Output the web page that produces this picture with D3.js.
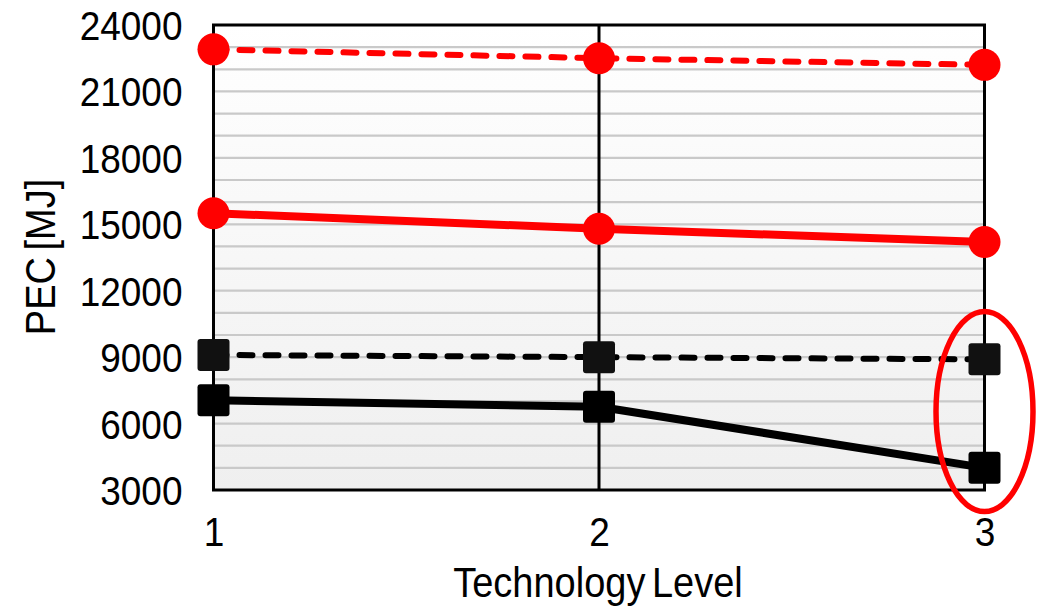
<!DOCTYPE html>
<html>
<head>
<meta charset="utf-8">
<script src="https://cdn.jsdelivr.net/npm/d3@7"></script>
<style>
html,body{margin:0;padding:0;background:#fff;}
svg{display:block;}
text{font-family:"Liberation Sans",Arial,sans-serif;fill:#000;}
</style>
</head>
<body>
<svg id="chart" width="1043" height="607"></svg>
<script>
const levels = [1, 2, 3];
const redDashed = [22900, 22500, 22200];
const redSolid = [15500, 14800, 14200];
const blackDashed = [9100, 9000, 8900];
const blackSolid = [7050, 6760, 4000];
const yTicks = [3000, 6000, 9000, 12000, 15000, 18000, 21000, 24000];
const xTicks = [1, 2, 3];

const svg = d3.select("#chart");
const L = 213.5, R = 984.5, T = 25, B = 490;
const x = d3.scaleLinear().domain([1, 3]).range([L, R]);
const y = d3.scaleLinear().domain([3000, 24000]).range([B, T]);

const defs = svg.append("defs");
const grad = defs.append("linearGradient").attr("id", "bg").attr("x1", 0).attr("y1", 0).attr("x2", 0).attr("y2", 1);
grad.append("stop").attr("offset", "0%").attr("stop-color", "#ffffff");
grad.append("stop").attr("offset", "100%").attr("stop-color", "#efefef");

svg.append("rect").attr("x", L).attr("y", T).attr("width", R - L).attr("height", B - T).attr("fill", "url(#bg)");

// minor gridlines every 1000
const grid = d3.range(4000, 24000, 1000);
svg.append("g").selectAll("line").data(grid).join("line")
  .attr("x1", L).attr("x2", R).attr("y1", d => y(d)).attr("y2", d => y(d))
  .attr("stroke", "#c9c9c9").attr("stroke-width", 2.2);

// vertical line at level 2
svg.append("line").attr("x1", x(2)).attr("x2", x(2)).attr("y1", T).attr("y2", B)
  .attr("stroke", "#000").attr("stroke-width", 3);

// frame
svg.append("rect").attr("x", L).attr("y", T).attr("width", R - L).attr("height", B - T)
  .attr("fill", "none").attr("stroke", "#000").attr("stroke-width", 3);

// axes (labels only)
const yAxis = svg.append("g").attr("transform", `translate(${L},0)`)
  .call(d3.axisLeft(y).tickValues(yTicks).tickSize(0).tickPadding(31).tickFormat(d3.format("d")));
yAxis.select(".domain").remove();
yAxis.selectAll("text").attr("font-size", 37).attr("dy", "0.35em")
  .attr("transform", "scale(1,1.12)")
  .style("font-family", '"Liberation Sans",Arial,sans-serif');

const xAxis = svg.append("g").attr("transform", `translate(0,${B})`)
  .call(d3.axisBottom(x).tickValues(xTicks).tickSize(0).tickPadding(0).tickFormat(d3.format("d")));
xAxis.select(".domain").remove();
xAxis.selectAll("text").attr("font-size", 37).attr("y", 56).attr("dy", 0)
  .attr("transform", "scale(1,1.12)").attr("y", 56 / 1.12)
  .style("font-family", '"Liberation Sans",Arial,sans-serif');

// axis titles
svg.append("text").attr("transform", "translate(598,597) scale(1,1.12)")
  .attr("text-anchor", "middle").attr("font-size", 38).attr("word-spacing", -4)
  .text("Technology Level");
svg.append("text").attr("transform", "translate(55,257) rotate(-90) scale(1,1.12)")
  .attr("text-anchor", "middle").attr("font-size", 38).attr("word-spacing", -4)
  .text("PEC [MJ]");

const line = d3.line().x((d, i) => x(levels[i])).y(d => y(d));

function series(vals, color, dashed, marker) {
  const g = svg.append("g");
  g.append("path").attr("d", line(vals)).attr("fill", "none")
    .attr("stroke", color).attr("stroke-width", dashed ? 6 : 8)
    .attr("stroke-dasharray", dashed ? "13,13" : null)
    .attr("stroke-linecap", dashed ? "round" : "butt")
    .attr("stroke-linejoin", "round");
  if (marker === "circle") {
    g.selectAll("circle").data(vals).join("circle")
      .attr("cx", (d, i) => x(levels[i])).attr("cy", d => y(d)).attr("r", 16).attr("fill", color);
  } else {
    const s = 32;
    g.selectAll("rect").data(vals).join("rect")
      .attr("x", (d, i) => x(levels[i]) - s / 2).attr("y", d => y(d) - s / 2)
      .attr("width", s).attr("height", s).attr("rx", 3).attr("fill", dashed ? "#111" : "#000");
  }
}
series(redDashed, "#ff0000", true, "circle");
series(redSolid, "#ff0000", false, "circle");
series(blackDashed, "#000", true, "square");
series(blackSolid, "#000", false, "square");

// red ellipse annotation around level-3 black points
const ey = y((blackDashed[2] + blackSolid[2]) / 2) - 2;
svg.append("ellipse").attr("cx", x(3)).attr("cy", ey).attr("rx", 48.5).attr("ry", 100)
  .attr("fill", "none").attr("stroke", "#ff0000").attr("stroke-width", 5.5);
</script>
</body>
</html>
